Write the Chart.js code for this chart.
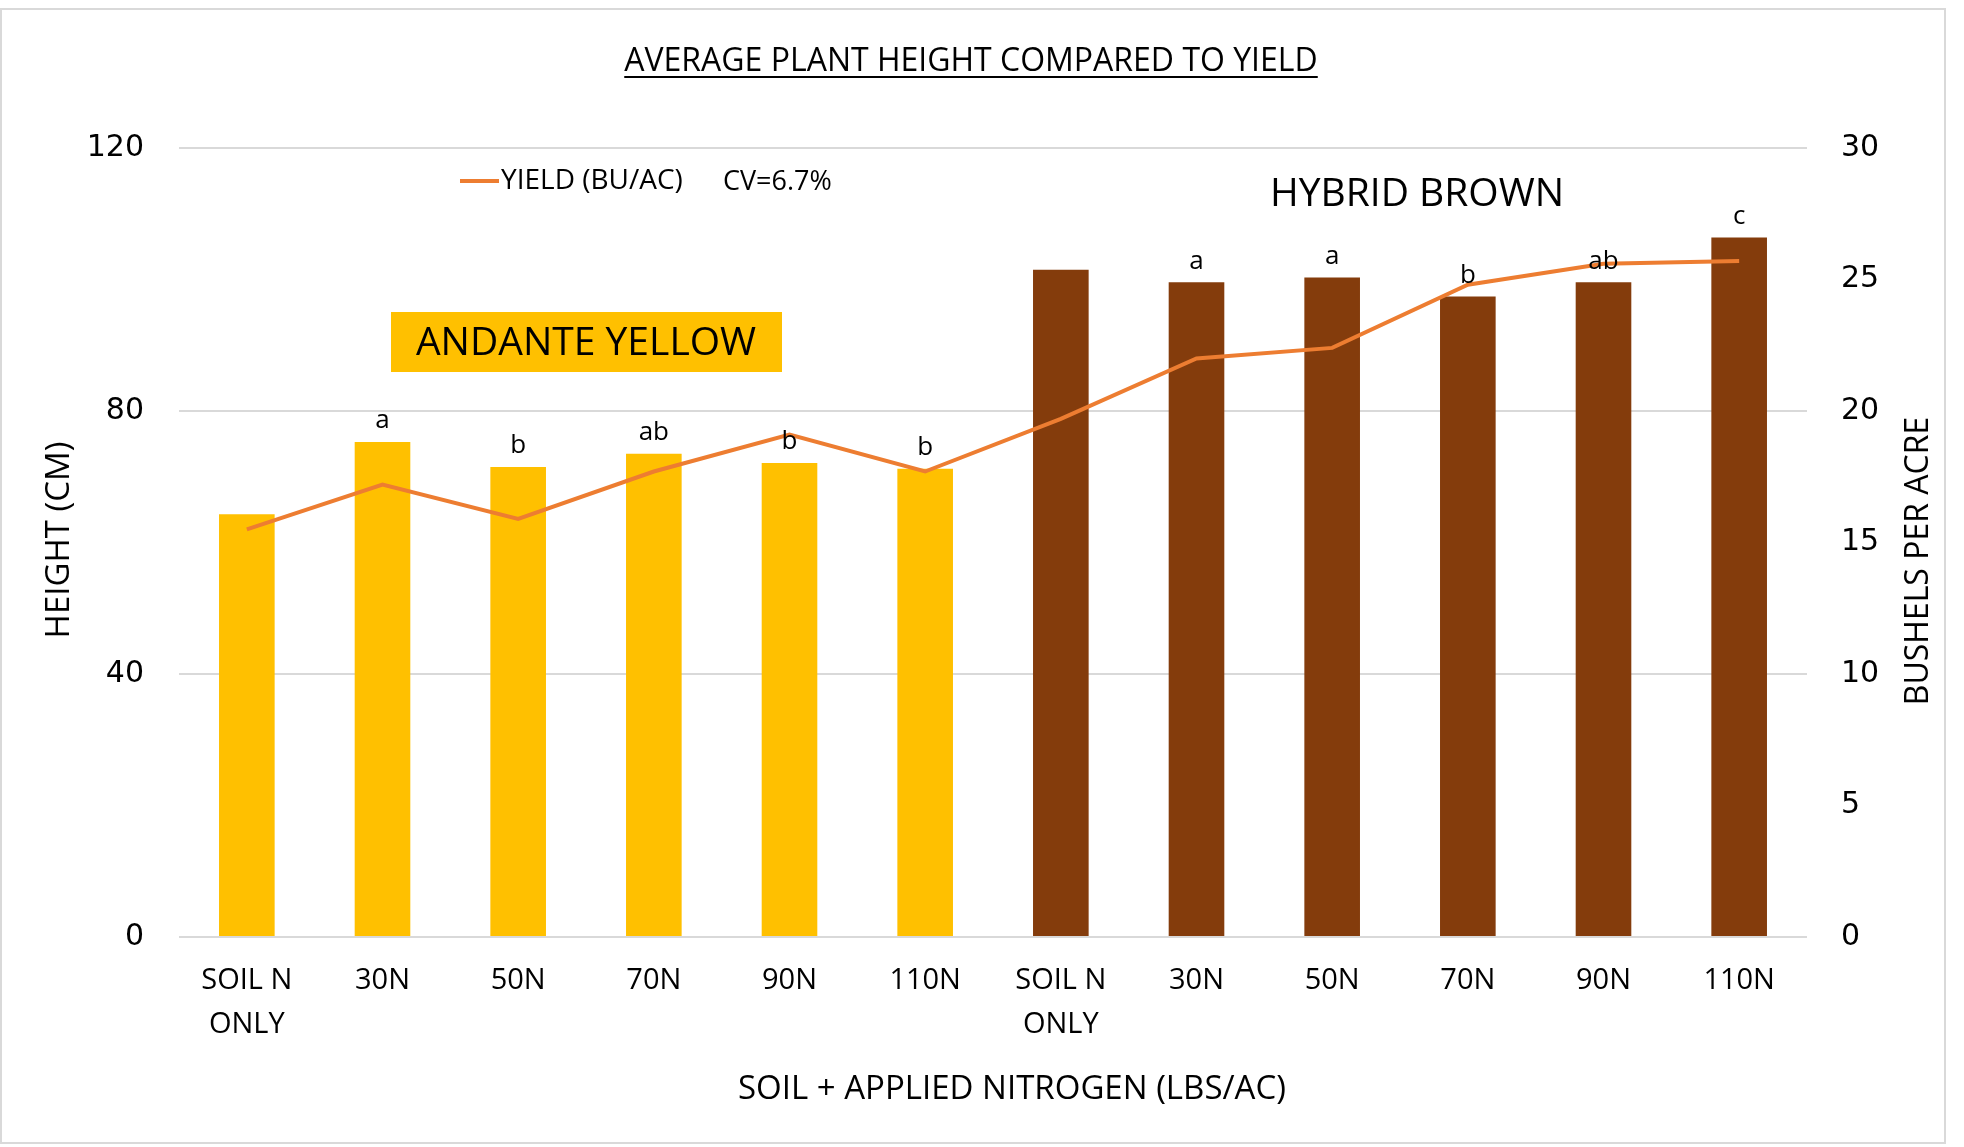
<!DOCTYPE html>
<html>
<head>
<meta charset="utf-8">
<script src="https://cdn.jsdelivr.net/npm/chart.js@4"></script>
<style>
  html, body { margin: 0; padding: 0; background: #ffffff; }
  #chart { display: block; }
</style>
</head>
<body>
<canvas id="chart" width="1964" height="1147"></canvas>
<script>
// Values
const categories = [['SOIL N', 'ONLY'], '30N', '50N', '70N', '90N', '110N',
                    ['SOIL N', 'ONLY'], '30N', '50N', '70N', '90N', '110N'];
const heightCm = [64.3, 75.3, 71.5, 73.5, 72.1, 71.2, 101.5, 99.6, 100.3, 97.4, 99.6, 106.4];
const yieldBuAc = [15.5, 17.2, 15.9, 17.7, 19.1, 17.7, 19.7, 22.0, 22.4, 24.8, 25.6, 25.7];
const sigLetters = ['', 'a', 'b', 'ab', 'b', 'b', '', 'a', 'a', 'b', 'ab', 'c'];
const heightTicks = [0, 40, 80, 120];
const yieldTicks = [0, 5, 10, 15, 20, 25, 30];
const andanteCount = 6;

const YELLOW = '#FFC000';
const BROWN = '#843C0C';
const ORANGE = '#ED7D31';
const GRID = '#d9d9d9';
const FONT = "'Open Sans', 'Noto Sans', sans-serif";
const NARROW = "'Liberation Sans Narrow', 'Open Sans', sans-serif";

// Annotations: title, axis titles, legend, variety labels, letters over bars
const annotations = {
  id: 'annotations',
  afterDatasetsDraw(chart) {
    const ctx = chart.ctx;
    const bars = chart.getDatasetMeta(1);   // the height bars
    ctx.save();
    ctx.fillStyle = '#000';
    ctx.font = '26px ' + FONT;
    ctx.textAlign = 'center';
    ctx.textBaseline = 'bottom';
    bars.data.forEach((bar, i) => {
      if (sigLetters[i]) ctx.fillText(sigLetters[i], bar.x, bar.y - 8);
    });
    ctx.restore();
  },
  afterDraw(chart) {
    const ctx = chart.ctx;
    const area = chart.chartArea;
    ctx.save();

    // outer frame
    ctx.strokeStyle = GRID;
    ctx.lineWidth = 2;
    ctx.strokeRect(1, 9, 1944, 1134);

    ctx.fillStyle = '#000';

    // title (underlined)
    ctx.font = '32px ' + FONT;
    ctx.textAlign = 'center';
    ctx.textBaseline = 'alphabetic';
    const title = 'AVERAGE PLANT HEIGHT COMPARED TO YIELD';
    const tw = ctx.measureText(title).width;
    const tx = 971, ty = 71;
    ctx.fillText(title, tx, ty);
    ctx.fillRect(tx - tw / 2, ty + 5, tw, 2);

    // x axis title
    ctx.font = '33px ' + FONT;
    ctx.textBaseline = 'middle';
    ctx.fillText('SOIL + APPLIED NITROGEN (LBS/AC)', 1012, 1090);

    // left axis title
    ctx.save();
    ctx.font = '33px ' + FONT;
    ctx.translate(60, 540);
    ctx.rotate(-Math.PI / 2);
    ctx.fillText('HEIGHT (CM)', 0, 0);
    ctx.restore();

    // right axis title
    ctx.save();
    ctx.font = '32px ' + FONT;
    ctx.translate(1919, 561);
    ctx.rotate(-Math.PI / 2);
    ctx.fillText('BUSHELS PER ACRE', 0, 0);
    ctx.restore();

    // legend
    ctx.strokeStyle = ORANGE;
    ctx.lineWidth = 4;
    ctx.beginPath();
    ctx.moveTo(460, 181);
    ctx.lineTo(499, 181);
    ctx.stroke();
    ctx.font = '28px ' + FONT;
    ctx.textAlign = 'left';
    ctx.fillText('YIELD (BU/AC)', 501, 181);
    ctx.font = '27px ' + FONT;
    ctx.fillText('CV=6.7%', 723, 182);

    // variety labels
    ctx.fillStyle = YELLOW;
    ctx.fillRect(391, 312, 391, 60);
    ctx.fillStyle = '#000';
    ctx.font = '39px ' + FONT;
    ctx.textAlign = 'center';
    ctx.fillText('ANDANTE YELLOW', 586, 344);
    ctx.fillText('HYBRID BROWN', 1417, 195);

    ctx.restore();
  }
};

new Chart(document.getElementById('chart'), {
  data: {
    labels: categories,
    datasets: [
      {
        type: 'line',
        label: 'YIELD (BU/AC)',
        data: yieldBuAc,
        yAxisID: 'y1',
        borderColor: ORANGE,
        borderWidth: 4,
        pointRadius: 0,
        tension: 0,
        order: 0
      },
      {
        type: 'bar',
        label: 'HEIGHT (CM)',
        data: heightCm,
        yAxisID: 'y',
        backgroundColor: (c) => c.dataIndex < andanteCount ? YELLOW : BROWN,
        categoryPercentage: 1,
        barPercentage: 0.41,
        order: 1
      }
    ]
  },
  options: {
    responsive: false,
    animation: false,
    devicePixelRatio: 1,
    layout: { padding: { top: 148, left: 0, right: 0, bottom: 0 } },
    plugins: {
      legend: { display: false },
      title: { display: false },
      tooltip: { enabled: false }
    },
    scales: {
      x: {
        grid: { display: false },
        border: { display: false },
        ticks: {
          color: '#000',
          font: { family: NARROW, size: 29, lineHeight: 1.5 },
          padding: 14,
          maxRotation: 0,
          autoSkip: false
        },
        afterFit: (s) => { s.height = 210; }
      },
      y: {
        position: 'left',
        min: 0,
        max: 120,
        afterBuildTicks: (s) => { s.ticks = heightTicks.map(v => ({ value: v })); },
        grid: { color: GRID, lineWidth: 2, drawTicks: false },
        border: { display: false },
        ticks: {
          color: '#000',
          font: { family: "'DejaVu Sans', sans-serif", size: 30 },
          padding: 35
        },
        afterFit: (s) => { s.width = 179; }
      },
      y1: {
        position: 'right',
        min: 0,
        max: 30,
        afterBuildTicks: (s) => { s.ticks = yieldTicks.map(v => ({ value: v })); },
        grid: { display: false, drawTicks: false },
        border: { display: false },
        ticks: {
          color: '#000',
          font: { family: "'DejaVu Sans', sans-serif", size: 30 },
          padding: 34
        },
        afterFit: (s) => { s.width = 157; }
      }
    }
  },
  plugins: [annotations]
});
</script>
</body>
</html>
